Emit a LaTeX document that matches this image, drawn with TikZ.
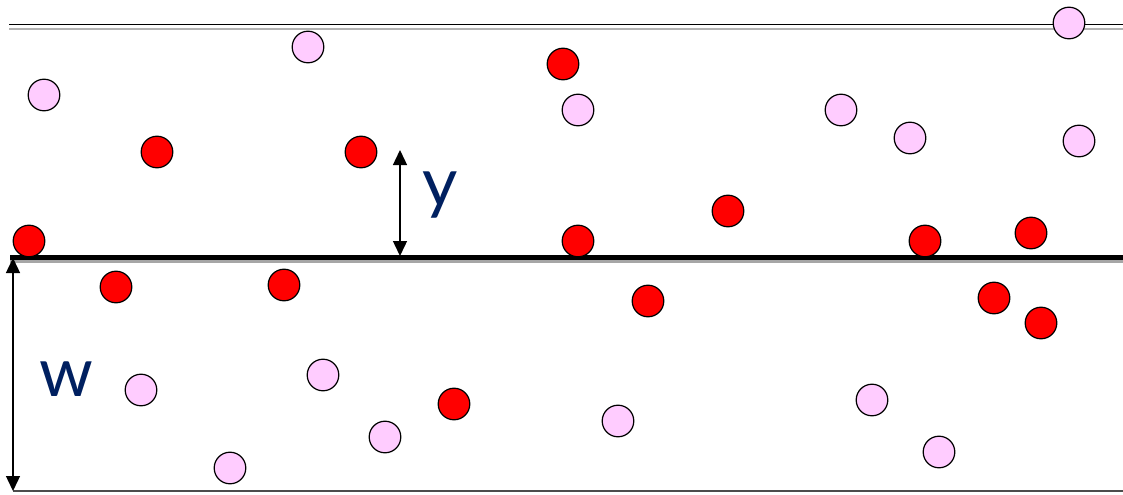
\documentclass[tikz,border=0pt]{standalone}
\usepackage{fontspec}
\setsansfont{Lato}
\usetikzlibrary{arrows.meta}

\definecolor{rosa}{RGB}{255,204,255}
\definecolor{blunotte}{RGB}{0,32,96}

\tikzset{
	pallina/.style={draw=black, line width=0.7pt},
	freccia/.style={{Triangle[length=0.3cm, width=0.28cm]}-{Triangle[length=0.3cm, width=0.28cm]}, line width=0.8pt},
	etichetta/.style={text=blunotte, font=\sffamily\fontsize{39}{41}\selectfont}
}

\begin{document}
\begin{tikzpicture}[x=0.02cm, y=-0.02cm]
	
	\useasboundingbox (0,0) rectangle (1123,494);
	
	% Bordo superiore
	\draw[line width=1.1pt, black] (9,24.5) -- (1123,24.5);
	\draw[line width=1.1pt, gray!60] (9,28.8) -- (1123,28.8);
	
	% Parete centrale
	\draw[line width=1.6pt, gray!70] (10,261.5) -- (1123,261.5);
	\draw[line width=2.9pt, black] (10,257.8) -- (1123,257.8);
	
	% Bordo inferiore
	\draw[line width=1.1pt, black!70] (13,491) -- (1123,491);
	
	% Quote
	\coordinate (wsu) at (13,258);
	\coordinate (wgiu) at (13,491);
	\coordinate (ysu) at (400,150);
	\coordinate (ygiu) at (400,256);
	\draw[freccia] (wsu) -- (wgiu);
	\draw[freccia] (ysu) -- (ygiu);
	\node[etichetta] (w) at (66,379) {w};
	\node[etichetta] (y) at (440,195) {y};
	
	% Palline rosa
	\foreach \px/\py in {44/95, 308/47, 578/110, 841/110, 910/138, 1079/141, 1069/23,
		141/390, 323/375, 230/468, 385/437, 618/421, 872/400, 939/452}
		\filldraw[pallina, fill=rosa] (\px,\py) circle (15.8);
	
	% Palline rosse
	\foreach \px/\py in {563/64, 157/152, 361/152, 29/241, 578/241, 728/211, 925/241, 1031/233,
		116/287, 284/285, 648/301, 994/298, 1041/323, 454/404}
		\filldraw[pallina, fill=red] (\px,\py) circle (15.8);
	
\end{tikzpicture}
\end{document}
